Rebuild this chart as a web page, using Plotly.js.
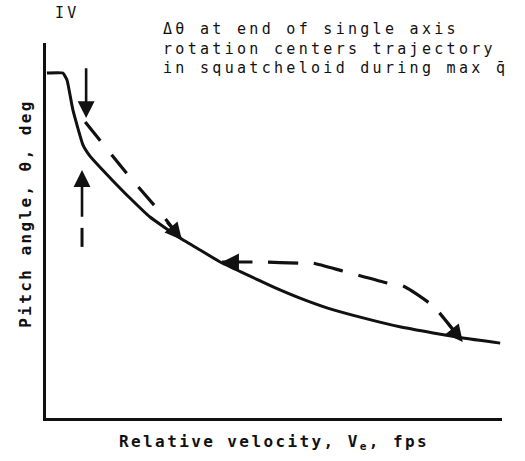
<!DOCTYPE html>
<html>
<head>
<meta charset="utf-8">
<script src="https://cdn.plot.ly/plotly-3.0.1.min.js"></script>
<style>
html, body { margin: 0; padding: 0; background: #fff; }
#chart { width: 525px; height: 461px; }
.annotation-text { letter-spacing: 3.3px; }
.g-xtitle text, .g-ytitle text { letter-spacing: 2.4px; }
</style>
</head>
<body>
<div id="chart"></div>
<script>
// Schematic curves (arbitrary units)
const solidX = [0.2, 3.7, 4.6, 5.9, 8.1, 9.65, 11.8, 14.7, 18.4, 22.8, 29.4, 33.8, 38.2, 43.2, 49.8, 55.7, 61.6, 68.9, 77.6, 84.9, 91.4, 99.6];
const solidY = [88.9, 88.9, 87.1, 79.4, 70.4, 67.5, 64.7, 61.1, 56.7, 51.8, 46.4, 43.3, 40.2, 37.4, 33.8, 30.9, 28.4, 26.0, 23.5, 21.9, 20.6, 19.3];

const dash1X = [8.6, 18.0, 25.0, 29.8];
const dash1Y = [76.3, 62.6, 53.1, 45.9];

const dash2X = [38.6, 47.0, 55.7, 58.6, 65.0, 74.8, 78.3, 84.9, 91.4];
const dash2Y = [40.2, 40.2, 39.9, 39.9, 37.9, 34.8, 34.0, 28.9, 19.6];

const tickSegX = [7.9, 7.9];
const tickSegY = [49.0, 44.1];

const dotX = [0];
const dotY = [99.2];

// Arrows: tip (x,y) and tail (ax,ay)
const arrowX  = [8.8, 7.9, 29.8, 38.6, 91.4];
const arrowY  = [77.3, 63.9, 45.9, 40.2, 19.6];
const arrowAX = [8.8, 7.9, 26.3, 42.5, 87.9];
const arrowAY = [90.5, 51.5, 50.8, 40.2, 24.7];

const noteText = "\u0394\u03b8 at end of single axis<br>rotation centers trajectory<br>in squatcheloid during max q\u0304";
const xTitle = "Relative velocity, V<sub>e</sub>, fps";
const yTitle = "Pitch angle, \u03b8, deg";

const ink = '#111';
const traces = [
  {x: solidX, y: solidY, mode: 'lines', line: {color: ink, width: 3, shape: 'spline', smoothing: 0.4}, hoverinfo: 'skip'},
  {x: dash1X, y: dash1Y, mode: 'lines', line: {color: ink, width: 3.2, dash: '24px,18px'}, hoverinfo: 'skip'},
  {x: dash2X, y: dash2Y, mode: 'lines', line: {color: ink, width: 3.2, dash: '30px,16px', shape: 'spline', smoothing: 0.4}, hoverinfo: 'skip'},
  {x: tickSegX, y: tickSegY, mode: 'lines', line: {color: ink, width: 3}, hoverinfo: 'skip'},
  {x: dotX, y: dotY, mode: 'markers', marker: {color: ink, size: 6}, cliponaxis: false, hoverinfo: 'skip'}
];

const annotations = arrowX.map((v, i) => ({
  x: v, y: arrowY[i], ax: arrowAX[i], ay: arrowAY[i],
  xref: 'x', yref: 'y', axref: 'x', ayref: 'y',
  text: '', showarrow: true, arrowhead: 2, arrowsize: 1.3, arrowwidth: 2.6,
  arrowcolor: ink, standoff: 0, startstandoff: 0
}));
annotations.push({
  xref: 'paper', yref: 'paper', x: 0.252, y: 1.066, xanchor: 'left', yanchor: 'top',
  align: 'left', showarrow: false, text: noteText,
  font: {family: 'DejaVu Sans Mono', size: 15, color: ink}
});
annotations.push({
  xref: 'paper', yref: 'paper', x: 0.048, y: 1.08, xanchor: 'center', yanchor: 'middle',
  showarrow: false, text: 'IV',
  font: {family: 'DejaVu Sans Mono', size: 15, color: ink}
});

const layout = {
  width: 525, height: 461,
  margin: {l: 46, r: 23, t: 43, b: 43},
  paper_bgcolor: '#fff', plot_bgcolor: '#fff',
  showlegend: false,
  xaxis: {
    range: [0, 100], showgrid: false, zeroline: false, showticklabels: false, ticks: '',
    showline: true, linecolor: ink, linewidth: 3,
    title: {text: xTitle, standoff: 16, font: {family: 'DejaVu Sans Mono', size: 16, color: ink, weight: 'bold'}}
  },
  yaxis: {
    range: [0, 96.65], showgrid: false, zeroline: false, showticklabels: false, ticks: '',
    showline: true, linecolor: ink, linewidth: 3,
    title: {text: yTitle, standoff: 8, font: {family: 'DejaVu Sans Mono', size: 16, color: ink, weight: 'bold'}}
  },
  annotations: annotations
};

const gd = document.getElementById('chart');
Plotly.newPlot(gd, traces, layout, {staticPlot: true, displayModeBar: false}).then(() => {
  const yt = gd.querySelector('.g-ytitle');
  if (yt) yt.setAttribute('transform', 'translate(0,-17)');
});
</script>
</body>
</html>
